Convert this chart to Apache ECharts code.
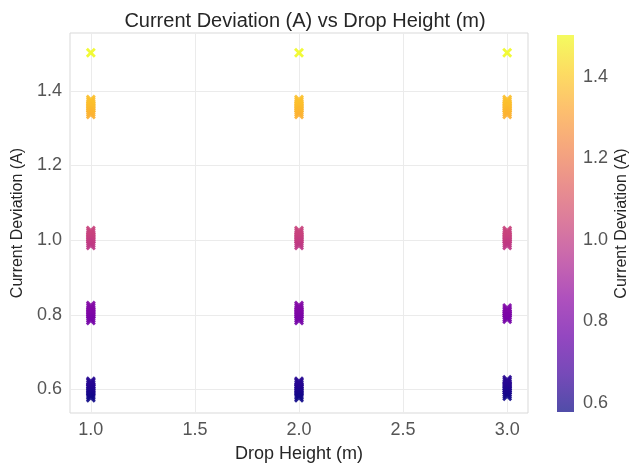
<!DOCTYPE html>
<html><head><meta charset="utf-8">
<script src="https://cdn.jsdelivr.net/npm/echarts@6/dist/echarts.min.js"></script>
<style>html,body{margin:0;padding:0;background:#fff}#c{width:635px;height:469px}</style>
</head><body><div id="c"></div>
<script>
const heights = [1.0, 2.0, 3.0];
const devAt1 = [0.578, 0.583, 0.588, 0.593, 0.598, 0.603, 0.608, 0.613, 0.618, 0.622, 0.785, 0.79, 0.795, 0.8, 0.805, 0.81, 0.815, 0.82, 0.825, 0.986, 0.991, 0.996, 1.001, 1.006, 1.011, 1.016, 1.021, 1.026, 1.337, 1.342, 1.347, 1.352, 1.357, 1.362, 1.367, 1.372, 1.377, 1.502];
const devAt2 = [0.578, 0.583, 0.588, 0.593, 0.598, 0.603, 0.608, 0.613, 0.618, 0.622, 0.785, 0.79, 0.795, 0.8, 0.805, 0.81, 0.815, 0.82, 0.825, 0.986, 0.991, 0.996, 1.001, 1.006, 1.011, 1.016, 1.021, 1.026, 1.337, 1.342, 1.347, 1.352, 1.357, 1.362, 1.367, 1.372, 1.377, 1.502];
const devAt3 = [0.582, 0.587, 0.592, 0.597, 0.602, 0.607, 0.612, 0.617, 0.622, 0.626, 0.788, 0.793, 0.798, 0.803, 0.808, 0.813, 0.818, 0.986, 0.991, 0.996, 1.001, 1.006, 1.011, 1.016, 1.021, 1.026, 1.337, 1.342, 1.347, 1.352, 1.357, 1.362, 1.367, 1.372, 1.377, 1.502];
const yTicks = [0.6, 0.8, 1.0, 1.2, 1.4];
const xTicks = [1.0, 1.5, 2.0, 2.5, 3.0];
const cMin = 0.578, cMax = 1.502;

const plasma = ['#0d0887','#41049d','#6a00a8','#8f0da4','#b12a90','#cc4778','#e16462','#f2844b','#fca636','#fcce25','#f0f921'];
const allDev = [devAt1, devAt2, devAt3];
const points = [];
heights.forEach((h, i) => allDev[i].forEach(v => points.push([h, v])));

function hexA(h, a){const r=parseInt(h.slice(1,3),16),g=parseInt(h.slice(3,5),16),b=parseInt(h.slice(5,7),16);return `rgba(${r},${g},${b},${a})`;}
const grad = new echarts.graphic.LinearGradient(0, 1, 0, 0, plasma.map((c, i) => ({offset: i/(plasma.length-1), color: hexA(c, 0.72)})));

const font = 'Liberation Sans, Arial, sans-serif';
const xShape = 'path://M0,2L2,0L5,3L8,0L10,2L7,5L10,8L8,10L5,7L2,10L0,8L3,5Z';

const chart = echarts.init(document.getElementById('c'));
chart.setOption({
  animation: false,
  backgroundColor: '#fff',
  textStyle: {fontFamily: font},
  title: {text: 'Current Deviation (A) vs Drop Height (m)', left: 300, top: 6, textAlign: 'center',
    textStyle: {fontFamily: font, fontSize: 20, fontWeight: 'normal', color: '#262626'}},
  grid: [
    {left: 70, top: 33, right: 107, bottom: 56, show: true, borderColor: '#d9d9d9', borderWidth: 1, backgroundColor: '#fff'},
    {left: 557, top: 35, width: 17, height: 377, show: true, borderWidth: 0, backgroundColor: grad}
  ],
  xAxis: [
    {gridIndex: 0, type: 'value', min: 0.9, max: 3.1,
      name: 'Drop Height (m)', nameLocation: 'middle', nameGap: 32,
      nameTextStyle: {fontFamily: font, fontSize: 18, color: '#262626'},
      axisLine: {show: false}, axisTick: {show: false, customValues: xTicks},
      axisLabel: {customValues: xTicks, formatter: v => v.toFixed(1), fontFamily: font, fontSize: 18, color: '#555', margin: 8},
      splitLine: {show: true, lineStyle: {color: '#ebebeb', width: 1}}},
    {gridIndex: 1, type: 'value', show: false, min: 0, max: 1}
  ],
  yAxis: [
    {gridIndex: 0, type: 'value', min: 0.537, max: 1.555,
      name: 'Current Deviation (A)', nameLocation: 'middle', nameGap: 43, nameRotate: 90,
      nameTextStyle: {fontFamily: font, fontSize: 16, color: '#262626'},
      axisLine: {show: false},
      axisTick: {show: false, customValues: yTicks},
      axisLabel: {customValues: yTicks, formatter: v => v.toFixed(1), fontFamily: font, fontSize: 18, color: '#555', margin: 8},
      splitLine: {show: true, lineStyle: {color: '#ebebeb', width: 1}}},
    {gridIndex: 1, type: 'value', position: 'right', min: cMin, max: cMax,
      name: 'Current Deviation (A)', nameLocation: 'middle', nameGap: 40, nameRotate: 90,
      nameTextStyle: {fontFamily: font, fontSize: 16, color: '#262626'},
      axisLine: {show: false},
      axisTick: {show: false, customValues: yTicks},
      axisLabel: {customValues: yTicks, formatter: v => v.toFixed(1), fontFamily: font, fontSize: 18, color: '#555', margin: 9},
      splitLine: {show: false}}
  ],
  visualMap: {show: false, type: 'continuous', min: cMin, max: cMax, dimension: 1, seriesIndex: 0,
    inRange: {color: plasma}},
  series: [{
    type: 'scatter', xAxisIndex: 0, yAxisIndex: 0, data: points,
    symbol: xShape, symbolSize: 10, itemStyle: {opacity: 0.9}
  }]
});
</script></body></html>
